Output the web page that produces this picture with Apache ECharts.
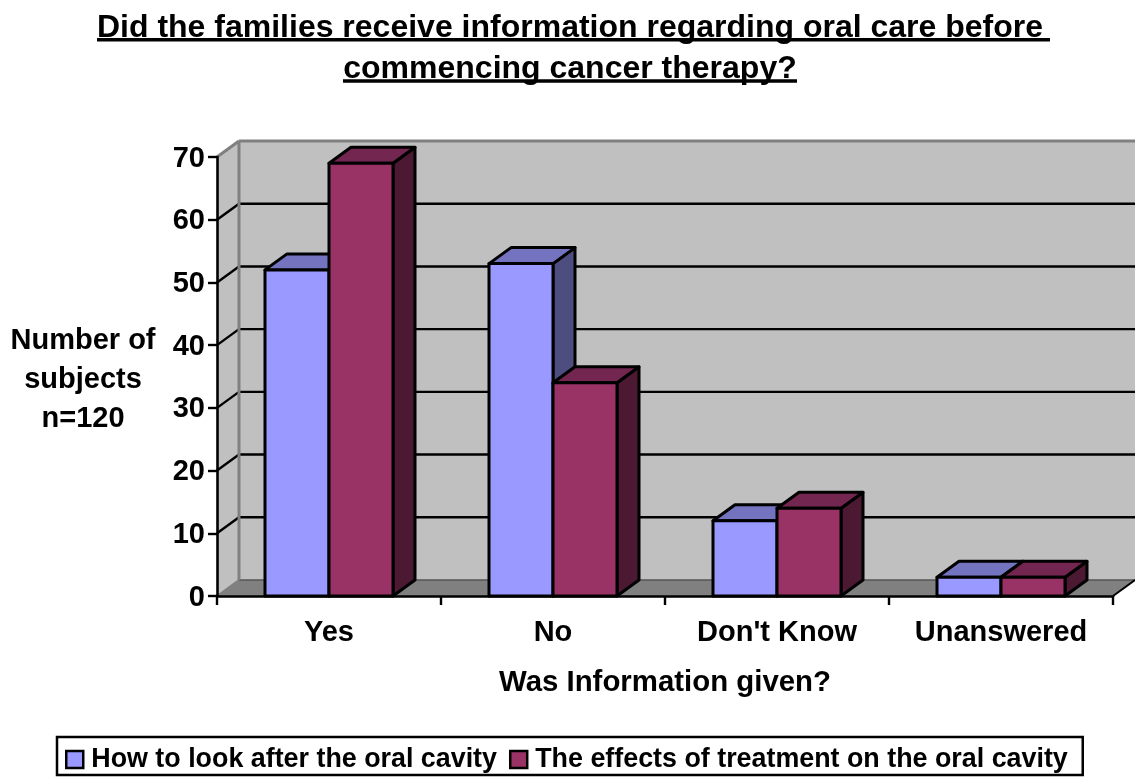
<!DOCTYPE html>
<html><head><meta charset="utf-8">
<style>html,body{margin:0;padding:0;background:#fff}#c{width:1135px;height:778px}</style>
<script src="https://cdn.jsdelivr.net/npm/echarts@6/dist/echarts.min.js"></script>
</head><body><div id="c"></div>
<script>
const categories = ["Yes", "No", "Don't Know", "Unanswered"];
const careValues = [52, 53, 12, 3];
const effectsValues = [69, 34, 14, 3];
const yTicks = [0, 10, 20, 30, 40, 50, 60, 70];
const seriesNames = ["How to look after the oral cavity", "The effects of treatment on the oral cavity"];

const FONT = '"Liberation Sans", Arial, sans-serif';
const DX = 22, DY = -16, LINE = 3;
const palette = [
  {front:'#9999FF', top:'#7373BF', side:'#4D4D80'},
  {front:'#993366', top:'#732650', side:'#4C1933'}
];
const boldText = {fontFamily:FONT,fontSize:29,fontWeight:'bold',color:'#000'};

function barRender(idx){
  return function(params, api){
    const c = palette[idx];
    const band = api.size([1,0])[0];
    const w = band * 0.2857;
    const base = api.coord([api.value(0), 0]);
    const top = api.coord([api.value(0), api.value(1)]);
    const x0 = base[0] - w + idx * w, x1 = x0 + w, y0 = base[1], y1 = top[1];
    const st = f => ({fill:f, stroke:'#000', lineWidth:LINE, lineJoin:'round'});
    const poly = (pts,f) => ({type:'polygon', shape:{points:pts}, style:st(f)});
    return {type:'group', children:[
      poly([[x1,y0],[x1+DX,y0+DY],[x1+DX,y1+DY],[x1,y1]], c.side),
      poly([[x0,y1],[x0+DX,y1+DY],[x1+DX,y1+DY],[x1,y1]], c.top),
      poly([[x0,y0],[x1,y0],[x1,y1],[x0,y1]], c.front)
    ]};
  };
}

function wallRender(params, api){
  const r = params.coordSys;
  const L = r.x, R = r.x + r.width, T = r.y, B = r.y + r.height;
  const v = api.value(1);
  const y = api.coord([0, v])[1];
  const kids = [];
  if (params.dataIndex === 0) {
    kids.push({type:'polygon', shape:{points:[[L+DX,T+DY],[R+DX,T+DY],[R+DX,B+DY],[L+DX,B+DY]]}, style:{fill:'#C0C0C0'}});
    kids.push({type:'polygon', shape:{points:[[L,T],[L+DX,T+DY],[L+DX,B+DY],[L,B]]}, style:{fill:'#C0C0C0'}});
    kids.push({type:'polygon', shape:{points:[[L,B],[L+DX,B+DY],[R+DX,B+DY],[R,B]]}, style:{fill:'#808080'}});
    kids.push({type:'line', shape:{x1:L+DX,y1:B+DY,x2:R+DX,y2:B+DY}, style:{stroke:'#555',lineWidth:1.5}});
    kids.push({type:'line', shape:{x1:L,y1:B,x2:L+DX,y2:B+DY}, style:{stroke:'#808080',lineWidth:2}});
    kids.push({type:'line', shape:{x1:R,y1:B,x2:R+DX,y2:B+DY}, style:{stroke:'#000',lineWidth:2}});
  } else if (params.dataIndex === yTicks.length - 1) {
    kids.push({type:'line', shape:{x1:L+DX,y1:T+DY,x2:R+DX,y2:T+DY}, style:{stroke:'#808080',lineWidth:3}});
    kids.push({type:'line', shape:{x1:L,y1:T,x2:L+DX,y2:T+DY}, style:{stroke:'#808080',lineWidth:3}});
    kids.push({type:'line', shape:{x1:L+DX,y1:T+DY,x2:L+DX,y2:B+DY}, style:{stroke:'#808080',lineWidth:3}});
  } else {
    kids.push({type:'line', shape:{x1:L,y1:y,x2:L+DX,y2:y+DY}, style:{stroke:'#000',lineWidth:2.4}});
    kids.push({type:'line', shape:{x1:L+DX,y1:y+DY,x2:R+DX,y2:y+DY}, style:{stroke:'#000',lineWidth:2.4}});
  }
  return {type:'group', children:kids};
}

const chart = echarts.init(document.getElementById('c'), null, {renderer:'canvas'});
chart.setOption({
  animation:false,
  backgroundColor:'#fff',
  textStyle:{fontFamily:FONT},
  title:{
    text:'Did the families receive information regarding oral care before\ncommencing cancer therapy?',
    left:565, top:3, textAlign:'center',
    textStyle:{fontFamily:FONT,fontSize:32,fontWeight:'bold',color:'#000',lineHeight:41}
  },
  graphic:[
    {type:'line', shape:{x1:97,y1:39.7,x2:1050,y2:39.7}, style:{stroke:'#000',lineWidth:3.6}},
    {type:'line', shape:{x1:343,y1:81,x2:797,y2:81}, style:{stroke:'#000',lineWidth:3.6}}
  ],
  grid:{left:217, top:157, width:896, height:439, containLabel:false},
  xAxis:{
    type:'category', data:categories, z:3,
    name:'Was Information given?', nameLocation:'middle', nameGap:72,
    nameTextStyle:{fontFamily:FONT,fontSize:29.4,fontWeight:'bold',color:'#000'},
    axisLine:{show:true,lineStyle:{color:'#000',width:2.6}},
    axisTick:{show:true,length:9,lineStyle:{color:'#000',width:2.4}},
    axisLabel:{...boldText,margin:22,interval:0},
    splitLine:{show:false}
  },
  yAxis:{
    type:'value', min:0, max:70, interval:10, z:3,
    name:'{a|Number of}\n{n|subjects}\n{n|n=120}', nameLocation:'middle', nameRotate:0, nameGap:134,
    nameTextStyle:{...boldText,align:'center',verticalAlign:'middle',
      rich:{a:{...boldText,lineHeight:45,padding:[6,0,0,0]},n:{...boldText,lineHeight:39}}},
    axisLine:{show:true,lineStyle:{color:'#000',width:2.6}},
    axisTick:{show:true,length:9,lineStyle:{color:'#000',width:2.4}},
    axisLabel:{...boldText,margin:12,
      formatter:v=>'{v|'+v+'}',
      rich:{v:{...boldText,padding:[3,0,0,0]}}},
    splitLine:{show:false}
  },
  legend:{
    data:seriesNames.map(n=>({name:n, icon:'rect'})),
    left:57, top:737, orient:'horizontal',
    padding:[9,15,2,8], itemGap:12, itemWidth:17, itemHeight:17,
    borderColor:'#000', borderWidth:2.5, backgroundColor:'#fff',
    itemStyle:{borderColor:'#000',borderWidth:2.5},
    textStyle:{fontFamily:FONT,fontSize:26.85,fontWeight:'bold',color:'#000',padding:[0,0,0,3]}
  },
  series:[
    {type:'custom', name:'walls', z:1, silent:true, renderItem:wallRender,
     data:yTicks.map(v=>[0,v]), encode:{x:0,y:1}},
    {type:'custom', name:seriesNames[0], z:2, renderItem:barRender(0),
     itemStyle:{color:palette[0].front,borderColor:'#000',borderWidth:2.5},
     data:careValues.map((v,i)=>[i,v]), encode:{x:0,y:1}},
    {type:'custom', name:seriesNames[1], z:2, renderItem:barRender(1),
     itemStyle:{color:palette[1].front,borderColor:'#000',borderWidth:2.5},
     data:effectsValues.map((v,i)=>[i,v]), encode:{x:0,y:1}}
  ]
});
</script></body></html>
